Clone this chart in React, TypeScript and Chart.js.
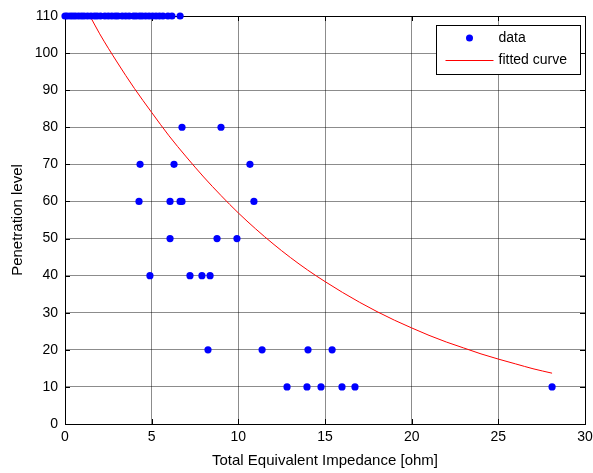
import React, { useEffect, useRef } from "react";
import { Chart, registerables } from "chart.js";

Chart.register(...registerables);

// ---- data ----
const xTicks = [0, 5, 10, 15, 20, 25, 30];
const yTicks = [0, 10, 20, 30, 40, 50, 60, 70, 80, 90, 100, 110];

const impedanceAt110 = [0, 0.12, 0.3, 0.45, 0.6, 0.78, 0.95, 1.1, 1.3, 1.5, 1.7, 1.85, 2.05, 2.3, 2.5, 2.7, 2.9, 3.05, 3.3, 3.5, 3.7, 3.95, 4.1, 4.3, 4.45, 4.65, 4.85, 5.05, 5.25, 5.45, 5.65, 5.94, 6.17, 6.64];
const impedanceAt80 = [6.75, 9.0];
const impedanceAt70 = [4.33, 6.29, 10.67];
const impedanceAt60 = [4.27, 6.06, 6.64, 6.75, 10.9];
const impedanceAt50 = [6.06, 8.77, 9.92];
const impedanceAt40 = [4.9, 7.21, 7.9, 8.37];
const impedanceAt20 = [8.25, 11.37, 14.02, 15.41];
const impedanceAt10 = [12.81, 13.96, 14.77, 15.98, 16.73, 28.1];

const fitX = [1.44, 2, 3, 4, 5, 6, 7, 8, 9, 10, 11, 12, 13, 14, 15, 16, 17, 18, 19, 20, 21, 22, 23, 24, 25, 26, 27, 28.1];
const fitY = [110, 105.2, 97.6, 90.5, 84.0, 77.7, 72.0, 66.6, 61.6, 56.9, 52.6, 48.6, 44.9, 41.5, 38.4, 35.5, 32.8, 30.3, 28.0, 25.9, 23.9, 22.1, 20.5, 18.9, 17.5, 16.2, 14.9, 13.7];

const xTitle = "Total Equivalent Impedance [ohm]";
const yTitle = "Penetration level";
const dataLabel = "data";
const fitLabel = "fitted curve";

const FONT = "'Liberation Sans', Arial, Helvetica, sans-serif";

const groups: [number, number[]][] = [
  [110, impedanceAt110],
  [80, impedanceAt80],
  [70, impedanceAt70],
  [60, impedanceAt60],
  [50, impedanceAt50],
  [40, impedanceAt40],
  [20, impedanceAt20],
  [10, impedanceAt10],
];

const framePlugin = {
  id: "matlabFrame",
  beforeDatasetsDraw(chart: any) {
    const { ctx, chartArea: a, scales } = chart;
    const xs = scales.x;
    const ys = scales.y;
    ctx.save();
    ctx.strokeStyle = "#000";
    ctx.lineWidth = 1;
    ctx.beginPath();
    xs.ticks.forEach((t: any) => {
      const px = Math.round(xs.getPixelForValue(t.value)) + 0.5;
      ctx.moveTo(px, a.bottom);
      ctx.lineTo(px, a.bottom - 5);
      ctx.moveTo(px, a.top);
      ctx.lineTo(px, a.top + 5);
    });
    ys.ticks.forEach((t: any) => {
      const py = Math.round(ys.getPixelForValue(t.value)) + 0.5;
      ctx.moveTo(a.left, py);
      ctx.lineTo(a.left + 5, py);
      ctx.moveTo(a.right, py);
      ctx.lineTo(a.right - 5, py);
    });
    ctx.stroke();
    ctx.strokeRect(Math.round(a.left) + 0.5, Math.round(a.top) + 0.5, Math.round(a.right - a.left), Math.round(a.bottom - a.top));
    ctx.restore();
  },
  afterDraw(chart: any) {
    const { ctx, chartArea: a } = chart;
    const ds = chart.data.datasets;
    const w = 144;
    const h = 49;
    const x0 = Math.round(a.right) - 149 + 0.5;
    const y0 = Math.round(a.top) + 9 + 0.5;
    ctx.save();
    ctx.fillStyle = "#fff";
    ctx.fillRect(x0, y0, w, h);
    ctx.strokeStyle = "#000";
    ctx.lineWidth = 1;
    ctx.strokeRect(x0, y0, w, h);
    ctx.fillStyle = "#0000ff";
    ctx.beginPath();
    ctx.arc(x0 + 33, y0 + 12.5, 3.5, 0, Math.PI * 2);
    ctx.fill();
    ctx.strokeStyle = "#ff0000";
    ctx.beginPath();
    ctx.moveTo(x0 + 9, y0 + 35);
    ctx.lineTo(x0 + 57, y0 + 35);
    ctx.stroke();
    ctx.fillStyle = "#000";
    ctx.font = `14px ${FONT}`;
    ctx.textBaseline = "middle";
    ctx.textAlign = "left";
    ctx.fillText(ds[0].label, x0 + 62, y0 + 12.5);
    ctx.fillText(ds[1].label, x0 + 62, y0 + 35);
    ctx.restore();
  },
};

export default function App() {
  const ref = useRef<HTMLCanvasElement | null>(null);

  useEffect(() => {
    if (!ref.current) return;
    const scatterPoints: { x: number; y: number }[] = [];
    groups.forEach(([lvl, xsArr]) => xsArr.forEach((x) => scatterPoints.push({ x, y: lvl })));
    const fitPoints = fitX.map((x, i) => ({ x, y: fitY[i] }));

    const chart = new Chart(ref.current, {
      type: "scatter",
      data: {
        datasets: [
          {
            label: dataLabel,
            data: scatterPoints,
            backgroundColor: "#0000ff",
            borderColor: "#0000ff",
            pointRadius: 3.6,
            pointBorderWidth: 0,
            clip: false as any,
            order: 1,
          },
          {
            type: "line" as any,
            label: fitLabel,
            data: fitPoints,
            borderColor: "#ff0000",
            borderWidth: 1,
            pointRadius: 0,
            showLine: true,
            fill: false,
            cubicInterpolationMode: "monotone",
            order: 2,
          } as any,
        ],
      },
      options: {
        animation: false,
        responsive: false,
        devicePixelRatio: 1,
        layout: { padding: { left: 0, right: 8, top: 16, bottom: 0 } },
        plugins: { legend: { display: false }, tooltip: { enabled: false } },
        scales: {
          x: {
            type: "linear",
            min: 0,
            max: 30,
            afterBuildTicks: (s: any) => {
              s.ticks = xTicks.map((v) => ({ value: v }));
            },
            ticks: { color: "#000", font: { size: 14, family: FONT }, padding: 5, maxRotation: 0 },
            grid: { color: "rgba(0,0,0,0.45)", drawTicks: false, lineWidth: 1 },
            border: { display: false },
            title: { display: true, text: xTitle, color: "#000", font: { size: 15, family: FONT }, padding: { top: 0, bottom: 3 } },
            afterFit: (s: any) => {
              s.height = 49;
              s.paddingLeft = 0;
              s.paddingRight = 0;
            },
          },
          y: {
            type: "linear",
            min: 0,
            max: 110,
            afterBuildTicks: (s: any) => {
              s.ticks = yTicks.map((v) => ({ value: v }));
            },
            ticks: { color: "#000", font: { size: 14, family: FONT }, padding: 7 },
            grid: { color: "rgba(0,0,0,0.45)", drawTicks: false, lineWidth: 1 },
            border: { display: false },
            title: { display: true, text: yTitle, color: "#000", font: { size: 15, family: FONT }, padding: { top: 9, bottom: 0 } },
            afterFit: (s: any) => {
              s.width = 65;
              s.paddingTop = 0;
              s.paddingBottom = 0;
            },
          },
        },
      },
      plugins: [framePlugin],
    });
    return () => chart.destroy();
  }, []);

  return (
    <div style={{ position: "fixed", left: 0, top: 0, width: 593, height: 473, background: "#fff" }}>
      <canvas ref={ref} width={593} height={473} style={{ display: "block", width: 593, height: 473 }} />
    </div>
  );
}
